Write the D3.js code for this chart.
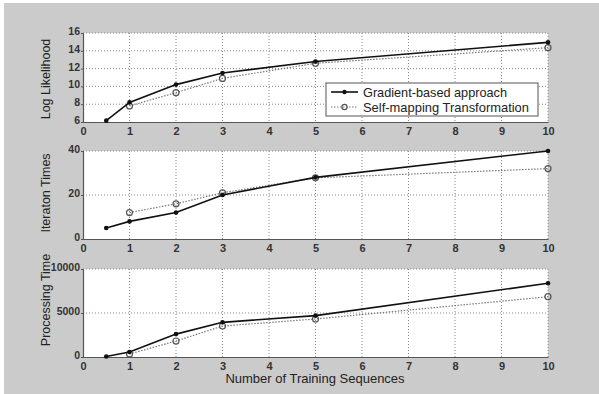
<!DOCTYPE html>
<html>
<head>
<meta charset="utf-8">
<script src="https://cdn.jsdelivr.net/npm/d3@7/dist/d3.min.js"></script>
<style>
  html, body { margin: 0; padding: 0; background: #fff; }
  svg { display: block; }
</style>
</head>
<body>
<div id="chart"></div>
<script>
// x positions (number of training sequences)
const gradX = [0.5, 1, 2, 3, 5, 10]
const selfX = [1, 2, 3, 5, 10]

// Log likelihood
const gradLL = [6.15, 8.2, 10.2, 11.5, 12.8, 14.95]
const selfLL = [7.8, 9.3, 10.9, 12.6, 14.35]

// Iteration times
const gradIter = [5, 8, 12, 20, 28, 40]
const selfIter = [12, 16, 21, 27.8, 32]

// Processing time
const gradProc = [50, 570, 2600, 3940, 4700, 8380]
const selfProc = [340, 1820, 3520, 4320, 6850]

const xTicks = [0, 1, 2, 3, 4, 5, 6, 7, 8, 9, 10]

const panels = [
  { label: "Log Likelihood", domain: [6, 16], ticks: [6, 8, 10, 12, 14, 16], grad: gradLL, self: selfLL, top: 33, bottom: 122, labelY: 79 },
  { label: "Iteraton Times", domain: [0, 40], ticks: [0, 20, 40], grad: gradIter, self: selfIter, top: 151, bottom: 239, labelY: 193 },
  { label: "Processing Time", domain: [0, 10000], ticks: [0, 5000, 10000], grad: gradProc, self: selfProc, top: 269, bottom: 357, labelY: 300 },
]

const W = 599, H = 394
const svg = d3.select("#chart").append("svg").attr("width", W).attr("height", H)

// figure background
svg.append("rect").attr("x", 4).attr("y", 3).attr("width", W - 4).attr("height", H - 3).attr("fill", "#cbcbcb")

const x = d3.scaleLinear().domain([0, 10]).range([83, 548])
const FONT = "'Liberation Sans', Arial, sans-serif"

panels.forEach(p => {
  const y = d3.scaleLinear().domain(p.domain).range([p.bottom, p.top])
  const g = svg.append("g")

  g.append("rect")
    .attr("x", x(0)).attr("y", p.top)
    .attr("width", x(10) - x(0)).attr("height", p.bottom - p.top)
    .attr("fill", "#fff")

  // grid
  g.selectAll(".vg").data(xTicks.slice(1)).join("line")
    .attr("x1", d => x(d)).attr("x2", d => x(d))
    .attr("y1", p.top).attr("y2", p.bottom)
    .attr("stroke", "#888").attr("stroke-width", 1).attr("stroke-dasharray", "1,2")
  g.selectAll(".hg").data(p.ticks.slice(1)).join("line")
    .attr("x1", x(0)).attr("x2", x(10))
    .attr("y1", d => y(d)).attr("y2", d => y(d))
    .attr("stroke", "#888").attr("stroke-width", 1).attr("stroke-dasharray", "1,2")

  // axes
  const xAxis = d3.axisBottom(x).tickValues(xTicks).tickSize(0).tickPadding(5).tickFormat(d3.format("d"))
  const yAxis = d3.axisLeft(y).tickValues(p.ticks).tickSize(2).tickPadding(1).tickFormat(d3.format("d"))
  const ax = g.append("g").attr("transform", `translate(0,${p.bottom})`).call(xAxis)
  const ay = g.append("g").attr("transform", `translate(${x(0)},0)`).call(yAxis)
  ;[ax, ay].forEach(a => {
    a.select(".domain").attr("stroke", "#555").attr("stroke-width", 1.2)
    a.selectAll(".tick line").attr("stroke", "#555")
    a.selectAll("text").attr("font-family", FONT)
      .attr("font-weight", "bold").attr("fill", "#333")
  })
  ax.selectAll("text").attr("font-size", 11)
  ay.selectAll("text").attr("font-size", 10.5).attr("dy", "0.15em")

  // axis label
  g.append("text")
    .attr("transform", `translate(50,${p.labelY}) rotate(-90)`)
    .attr("text-anchor", "middle")
    .attr("font-family", FONT).attr("font-size", 12.5).attr("fill", "#222")
    .text(p.label)

  const line = d3.line().x(d => x(d[0])).y(d => y(d[1]))
  const gradPts = gradX.map((v, i) => [v, p.grad[i]])
  const selfPts = selfX.map((v, i) => [v, p.self[i]])

  g.append("path").datum(selfPts).attr("d", line)
    .attr("fill", "none").attr("stroke", "#777").attr("stroke-width", 1.2).attr("stroke-dasharray", "1.5,1.5")
  g.selectAll(".sm").data(selfPts).join("circle")
    .attr("cx", d => x(d[0])).attr("cy", d => y(d[1])).attr("r", 3)
    .attr("fill", "none").attr("stroke", "#555").attr("stroke-width", 1.2)

  g.append("path").datum(gradPts).attr("d", line)
    .attr("fill", "none").attr("stroke", "#111").attr("stroke-width", 1.6)
  g.selectAll(".gm").data(gradPts).join("circle")
    .attr("cx", d => x(d[0])).attr("cy", d => y(d[1])).attr("r", 2.3)
    .attr("fill", "#111")
})

// legend
const lg = svg.append("g")
lg.append("rect").attr("x", 326).attr("y", 83).attr("width", 212).attr("height", 33)
  .attr("fill", "#fff").attr("stroke", "#555").attr("stroke-width", 1)
const legendItems = [
  { name: "Gradient-based approach", len: 144, dash: null, color: "#111", open: false },
  { name: "Self-mapping Transformation", len: 166, dash: "1.5,1.5", color: "#777", open: true },
]
legendItems.forEach((d, i) => {
  const yy = 92 + i * 15
  lg.append("line").attr("x1", 331).attr("x2", 358).attr("y1", yy).attr("y2", yy)
    .attr("stroke", d.color).attr("stroke-width", d.open ? 1.2 : 1.6)
    .attr("stroke-dasharray", d.dash)
  lg.append("circle").attr("cx", 344.5).attr("cy", yy).attr("r", d.open ? 2.6 : 2.2)
    .attr("fill", d.open ? "none" : "#111").attr("stroke", d.open ? "#555" : "none").attr("stroke-width", 1.2)
  lg.append("text").attr("x", 363).attr("y", yy + 4.5)
    .attr("font-family", FONT).attr("font-size", 13).attr("fill", "#222")
    .attr("textLength", d.len).attr("lengthAdjust", "spacingAndGlyphs")
    .text(d.name)
})

// x axis title
svg.append("text").attr("x", 315).attr("y", 383).attr("text-anchor", "middle")
  .attr("font-family", FONT).attr("font-size", 13).attr("fill", "#222")
  .text("Number of Training Sequences")
</script>
</body>
</html>
